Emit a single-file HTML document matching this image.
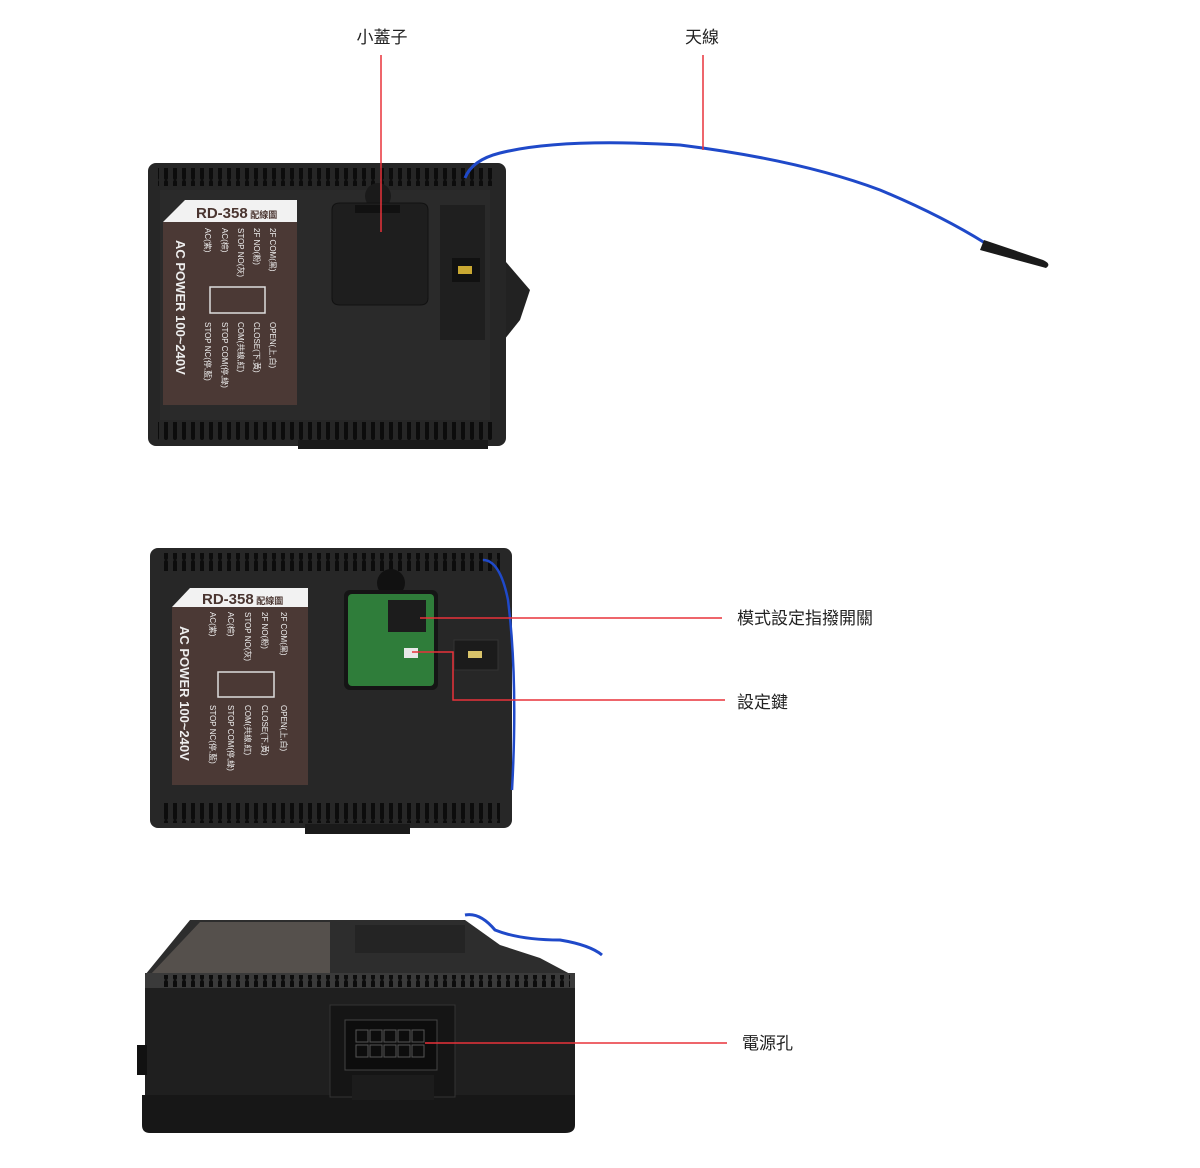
<!DOCTYPE html>
<html><head><meta charset="utf-8"><style>
body{margin:0;background:#fff;}
svg{display:block}
text{font-family:"Liberation Sans","Noto Sans CJK TC",sans-serif;}
</style></head><body>
<svg width="1200" height="1168" viewBox="0 0 1200 1168" xmlns="http://www.w3.org/2000/svg">
<defs>
<pattern id="vent" x="0" y="0" width="9" height="20" patternUnits="userSpaceOnUse">
<rect x="2" y="0" width="4" height="20" rx="2" fill="#0c0c0c"/>
</pattern>
</defs>

<text x="382" y="43" font-size="17" text-anchor="middle" fill="#222">小蓋子</text>
<text x="702" y="43" font-size="17" text-anchor="middle" fill="#222">天線</text>

<!-- Device 1 -->
<path d="M500 255 L530 290 L520 320 L500 345 Z" fill="#222"/>
<rect x="148" y="163" width="358" height="283" rx="8" fill="#262626"/>
<rect x="298" y="440" width="190" height="9" fill="#1a1a1a"/>
<rect x="158" y="168" width="335" height="18" fill="url(#vent)"/>
<rect x="158" y="422" width="335" height="18" fill="url(#vent)"/>
<rect x="160" y="190" width="330" height="230" fill="#2a2a2a"/>
<path d="M185 200 L297 200 L297 222 L163 222 Z" fill="#f2f2f2"/>
<text x="196" y="218" font-size="15" font-weight="bold" fill="#4a3530">RD-358<tspan font-size="9"> 配線圖</tspan></text>
<rect x="163" y="222" width="134" height="183" fill="#4b3935"/>
<g fill="#eee" font-size="8">
<text transform="translate(176,240) rotate(90)" font-size="13" font-weight="bold">AC POWER 100~240V</text>
<text transform="translate(205,228) rotate(90)">AC(紫)</text>
<text transform="translate(222,228) rotate(90)">AC(棕)</text>
<text transform="translate(238,228) rotate(90)">STOP NO(灰)</text>
<text transform="translate(254,228) rotate(90)">2F NO(粉)</text>
<text transform="translate(270,228) rotate(90)">2F COM(黑)</text>
<text transform="translate(205,322) rotate(90)">STOP NC(停,藍)</text>
<text transform="translate(222,322) rotate(90)">STOP COM(停,綠)</text>
<text transform="translate(238,322) rotate(90)">COM(共線,紅)</text>
<text transform="translate(254,322) rotate(90)">CLOSE(下,黃)</text>
<text transform="translate(270,322) rotate(90)">OPEN(上,白)</text>
</g>
<rect x="210" y="287" width="55" height="26" fill="none" stroke="#ddd" stroke-width="1.5"/>
<circle cx="378" cy="196" r="13" fill="#1a1a1a"/>
<path d="M332 210 Q332 203 340 203 L420 203 Q428 203 428 210 L428 298 Q428 305 420 305 L340 305 Q332 305 332 298 Z" fill="#1e1e1e" stroke="#111"/>
<rect x="355" y="205" width="45" height="8" fill="#111"/>
<rect x="440" y="205" width="45" height="135" fill="#1f1f1f"/>
<rect x="452" y="258" width="28" height="24" fill="#111"/>
<rect x="458" y="266" width="14" height="8" fill="#c9a832"/>
<path d="M465 178 Q472 160 500 153 Q560 138 680 145 Q800 160 880 190 Q940 215 985 243" fill="none" stroke="#1f49c9" stroke-width="3"/>
<path d="M984 240 L1043 260 Q1052 264 1046 268 L980 250 Z" fill="#1a1a1a"/>

<line x1="381" y1="55" x2="381" y2="232" stroke="#e8323a" stroke-width="1.5"/>
<line x1="703" y1="55" x2="703" y2="150" stroke="#e8323a" stroke-width="1.5"/>

<!-- Device 2 -->
<rect x="150" y="548" width="362" height="280" rx="8" fill="#272727"/>
<rect x="305" y="824" width="105" height="10" fill="#1a1a1a"/>
<rect x="160" y="553" width="340" height="18" fill="url(#vent)"/>
<rect x="160" y="803" width="340" height="20" fill="url(#vent)"/>
<path d="M190 588 L308 588 L308 607 L172 607 Z" fill="#f2f2f2"/>
<text x="202" y="604" font-size="15" font-weight="bold" fill="#4a3530">RD-358<tspan font-size="9"> 配線圖</tspan></text>
<rect x="172" y="607" width="136" height="178" fill="#4b3935"/>
<g fill="#eee" font-size="8">
<text transform="translate(180,626) rotate(90)" font-size="13" font-weight="bold">AC POWER 100~240V</text>
<text transform="translate(210,612) rotate(90)">AC(紫)</text>
<text transform="translate(228,612) rotate(90)">AC(棕)</text>
<text transform="translate(245,612) rotate(90)">STOP NO(灰)</text>
<text transform="translate(262,612) rotate(90)">2F NO(粉)</text>
<text transform="translate(281,612) rotate(90)">2F COM(黑)</text>
<text transform="translate(210,705) rotate(90)">STOP NC(停,藍)</text>
<text transform="translate(228,705) rotate(90)">STOP COM(停,綠)</text>
<text transform="translate(245,705) rotate(90)">COM(共線,紅)</text>
<text transform="translate(262,705) rotate(90)">CLOSE(下,黃)</text>
<text transform="translate(281,705) rotate(90)">OPEN(上,白)</text>
</g>
<rect x="218" y="672" width="56" height="25" fill="none" stroke="#ddd" stroke-width="1.5"/>
<circle cx="391" cy="583" r="14" fill="#111"/>
<rect x="344" y="590" width="94" height="100" rx="6" fill="#151515"/>
<rect x="348" y="594" width="86" height="92" rx="4" fill="#2f7d3a"/>
<rect x="388" y="600" width="38" height="32" fill="#1c1c1c"/>
<rect x="404" y="648" width="14" height="10" fill="#e8e8e8"/>
<rect x="454" y="640" width="44" height="30" fill="#1b1b1b" stroke="#333"/>
<rect x="468" y="651" width="14" height="7" fill="#d9c36a"/>
<path d="M483 560 Q500 560 508 600 Q518 680 512 790" fill="none" stroke="#1f49c9" stroke-width="2.5"/>

<line x1="420" y1="618" x2="722" y2="618" stroke="#e8323a" stroke-width="1.5"/>
<polyline points="412,652 453,652 453,700 725,700" fill="none" stroke="#e8323a" stroke-width="1.5"/>
<text x="737" y="624" font-size="17" fill="#222">模式設定指撥開關</text>
<text x="737" y="708" font-size="17" fill="#222">設定鍵</text>

<!-- Device 3 -->
<path d="M190 920 L465 920 L500 945 L540 958 L572 975 L145 975 Z" fill="#2d2d2d"/>
<path d="M200 922 L330 922 L330 975 L150 975 Z" fill="#55504c"/>
<rect x="355" y="925" width="110" height="28" fill="#242424"/>
<rect x="145" y="973" width="430" height="16" fill="#3a3a3a"/>
<rect x="160" y="975" width="410" height="12" fill="url(#vent)"/>
<rect x="145" y="988" width="430" height="110" fill="#1f1f1f"/>
<rect x="137" y="1045" width="10" height="30" fill="#111"/>
<path d="M142 1095 L575 1095 L575 1125 Q575 1133 565 1133 L150 1133 Q142 1133 142 1125 Z" fill="#171717"/>
<rect x="330" y="1005" width="125" height="92" fill="#151515" stroke="#333"/>
<rect x="345" y="1020" width="92" height="50" fill="#0d0d0d" stroke="#444"/>
<g fill="none" stroke="#555">
<rect x="356" y="1030" width="12" height="12"/><rect x="370" y="1030" width="12" height="12"/><rect x="384" y="1030" width="12" height="12"/><rect x="398" y="1030" width="12" height="12"/><rect x="412" y="1030" width="12" height="12"/>
<rect x="356" y="1045" width="12" height="12"/><rect x="370" y="1045" width="12" height="12"/><rect x="384" y="1045" width="12" height="12"/><rect x="398" y="1045" width="12" height="12"/><rect x="412" y="1045" width="12" height="12"/>
</g>
<rect x="352" y="1075" width="82" height="25" fill="#1c1c1c"/>
<path d="M465 915 Q480 912 495 930 Q520 940 560 940 Q590 945 602 955" fill="none" stroke="#1f49c9" stroke-width="3"/>
<line x1="425" y1="1043" x2="727" y2="1043" stroke="#e8323a" stroke-width="1.5"/>
<text x="742" y="1049" font-size="17" fill="#222">電源孔</text>
</svg>
</body></html>
